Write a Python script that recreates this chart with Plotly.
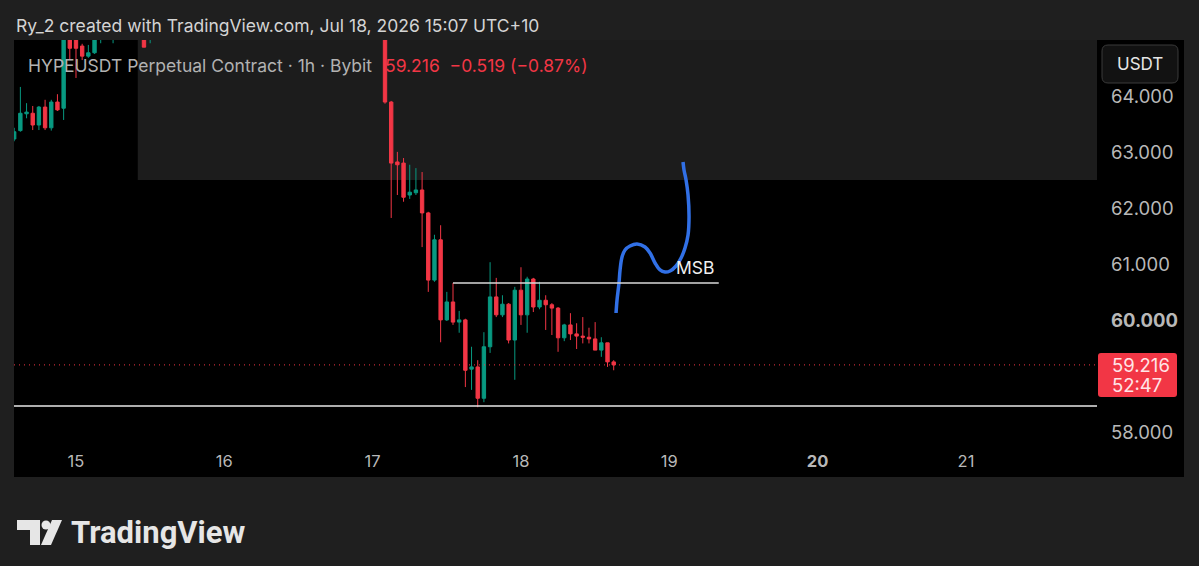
import pandas as pd
import plotly.graph_objects as go

# ---------------- data ----------------
BASE = pd.Timestamp("2026-07-15 00:00")  # hour offsets below are relative to this

hours = [-10, -9, -8, -7, -6, -5, -4, -3, -2, -1, 0, 1, 2, 3, 4, 6, 11, 12,
         50, 51, 52, 53, 54, 55, 56, 57, 58, 59, 60, 61, 62, 63, 64, 65, 66, 67, 68, 69,
         70, 71, 72, 73, 74, 75, 76, 77, 78, 79, 80, 81, 82, 83, 84, 85, 86, 87]
opens = [63.25, 63.40, 63.70, 63.71, 63.50, 63.82, 63.45, 63.91, 63.80, 65.30, 65.10, 64.91, 64.73, 64.79, 65.10, 65.15, 65.30, 65.10,
         65.60, 63.91, 62.84, 62.82, 62.25, 62.29, 62.34, 61.93, 60.73, 61.45, 60.02, 60.34, 59.98, 60.02, 59.14, 59.18, 58.62, 59.54, 60.43, 60.11,
         60.30, 59.66, 60.55, 60.11, 60.75, 60.25, 60.37, 60.29, 60.23, 59.70, 59.93, 59.77, 59.73, 59.71, 59.68, 59.48, 59.61, 59.27]
highs = [63.45, 64.18, 63.89, 63.84, 63.84, 63.95, 63.95, 64.05, 65.45, 65.45, 65.25, 64.95, 64.93, 65.20, 65.40, 65.45, 65.40, 65.40,
         65.70, 63.93, 63.02, 62.91, 62.79, 62.73, 62.66, 61.95, 61.54, 61.71, 60.52, 60.68, 60.18, 60.04, 59.54, 59.30, 59.80, 61.05, 60.77, 60.46,
         60.32, 60.61, 60.96, 60.79, 60.77, 60.70, 60.46, 60.32, 60.25, 59.95, 60.14, 59.96, 60.07, 59.88, 59.98, 59.71, 59.61, 59.30]
lows = [63.21, 63.38, 63.62, 63.41, 63.41, 63.41, 63.40, 63.75, 63.59, 64.66, 64.34, 64.66, 64.70, 64.77, 64.96, 64.96, 64.89, 64.96,
        63.88, 61.84, 62.25, 62.13, 62.18, 62.25, 61.32, 60.52, 60.70, 59.62, 60.00, 59.93, 59.79, 58.82, 58.77, 58.46, 58.55, 59.43, 60.07, 60.07,
        59.60, 58.95, 59.93, 59.79, 60.16, 60.21, 59.84, 59.75, 59.45, 59.64, 59.66, 59.50, 59.60, 59.60, 59.48, 59.36, 59.18, 59.12]
closes = [63.38, 63.71, 63.73, 63.50, 63.82, 63.45, 63.91, 63.77, 65.30, 64.87, 64.87, 64.73, 64.79, 65.10, 65.30, 65.35, 64.89, 65.30,
          63.91, 62.82, 62.79, 62.21, 62.30, 62.34, 61.93, 60.73, 61.45, 60.02, 60.34, 59.98, 60.02, 59.12, 59.18, 58.62, 59.54, 60.43, 60.11, 60.30,
          59.66, 60.55, 60.11, 60.75, 60.25, 60.37, 60.29, 60.23, 59.70, 59.93, 59.77, 59.73, 59.71, 59.68, 59.48, 59.61, 59.27, 59.216]

last_price = 59.216
price_ticks = [58, 60, 61, 62, 63, 64]
price_tick_text = ["58.000", "<b>60.000</b>", "61.000", "62.000", "63.000", "64.000"]
day_ticks = ["2026-07-15", "2026-07-16", "2026-07-17", "2026-07-18", "2026-07-19", "2026-07-20", "2026-07-21"]
day_tick_text = ["15", "16", "17", "18", "19", "<b>20</b>", "21"]

view_hours = [-10.03, 165.2]
price_range = [57.857, 65.018]

# drawings (hour offset, price)
zone_hours = [10.0, 165.2]
zone_prices = [62.52, 66.0]
support_price = 58.48
msb_hours = [61.0, 104.0]
msb_price = 60.68
msb_label = (96.8, 60.95)
path_hours = [87.38, 87.54, 87.86, 88.03, 88.35, 88.83, 89.64, 90.78, 92.07, 92.88, 93.69, 94.50,
              95.31, 96.12, 97.09, 97.90, 98.54, 99.03, 99.19, 99.03, 98.71, 98.38, 98.22]
path_prices = [60.143, 60.375, 60.679, 60.911, 61.143, 61.268, 61.339, 61.375, 61.321, 61.214, 61.036, 60.911,
               60.875, 60.893, 60.982, 61.125, 61.304, 61.536, 61.857, 62.25, 62.518, 62.696, 62.839]


def t(h):
    return BASE + pd.to_timedelta(h, unit="h")


# ---------------- layout geometry (pixels) ----------------
W, H = 1199, 566
PL, PR, PT, PB = 14, 1097, 40, 441


def px(x):
    return (x - PL) / (PR - PL)


def py(y):
    return (PB - y) / (PB - PT)


def rrect(x0, y0, x1, y1, r):
    return (f"M {px(x0 + r)} {py(y0)} L {px(x1 - r)} {py(y0)} Q {px(x1)} {py(y0)} {px(x1)} {py(y0 + r)} "
            f"L {px(x1)} {py(y1 - r)} Q {px(x1)} {py(y1)} {px(x1 - r)} {py(y1)} "
            f"L {px(x0 + r)} {py(y1)} Q {px(x0)} {py(y1)} {px(x0)} {py(y1 - r)} "
            f"L {px(x0)} {py(y0 + r)} Q {px(x0)} {py(y0)} {px(x0 + r)} {py(y0)} Z")


def poly(pts):
    return "M " + " L ".join(f"{px(a)} {py(b)}" for a, b in pts) + " Z"


UP, DOWN = "#089981", "#f23645"
FONT = "Inter"

fig = go.Figure()
fig.add_trace(go.Candlestick(
    x=[t(h) for h in hours], open=opens, high=highs, low=lows, close=closes,
    increasing=dict(line=dict(color=UP, width=1), fillcolor=UP),
    decreasing=dict(line=dict(color=DOWN, width=1), fillcolor=DOWN),
    whiskerwidth=0, showlegend=False, hoverinfo="skip",
))
fig.add_trace(go.Scatter(
    x=[t(h) for h in path_hours], y=path_prices, mode="lines",
    line=dict(color="#3170e6", width=3.5, shape="spline", smoothing=1.0),
    showlegend=False, hoverinfo="skip",
))

shapes = [
    # black chart panel incl. price axis and time axis
    dict(type="rect", xref="paper", yref="paper", x0=px(14), x1=px(1184), y0=py(477), y1=py(40),
         fillcolor="#000000", line=dict(width=0), layer="below"),
    # gray zone
    dict(type="rect", xref="x", yref="y", x0=t(zone_hours[0]), x1=t(zone_hours[1]),
         y0=zone_prices[0], y1=zone_prices[1], fillcolor="#1c1c1c", line=dict(width=0), layer="below"),
    # support line
    dict(type="line", xref="paper", yref="y", x0=0, x1=1, y0=support_price, y1=support_price,
         line=dict(color="#e8e8e8", width=1.5)),
    # MSB line
    dict(type="line", xref="x", yref="y", x0=t(msb_hours[0]), x1=t(msb_hours[1]), y0=msb_price, y1=msb_price,
         line=dict(color="#d8d8d8", width=1.5)),
    # last price dotted line
    dict(type="line", xref="paper", yref="y", x0=0, x1=1, y0=last_price, y1=last_price,
         line=dict(color=DOWN, width=1, dash="1px,4px")),
    # last price label box
    dict(type="path", xref="paper", yref="paper", path=rrect(1098, 353, 1177, 397, 3),
         fillcolor=DOWN, line=dict(width=0)),
    # USDT box
    dict(type="path", xref="paper", yref="paper", path=rrect(1102, 45, 1178, 83, 6),
         fillcolor="#121212", line=dict(color="#3a3a3a", width=1)),
    # TradingView logo
    dict(type="path", xref="paper", yref="paper",
         path=poly([(17, 520), (40, 520), (40, 545), (30, 545), (30, 530), (17, 530)]),
         fillcolor="#e6e6e6", line=dict(width=0)),
    dict(type="circle", xref="paper", yref="paper", x0=px(41.5), x1=px(50.5), y0=py(529.5), y1=py(520.5),
         fillcolor="#e6e6e6", line=dict(width=0)),
    dict(type="path", xref="paper", yref="paper",
         path=poly([(52, 520), (62, 520), (51, 545), (41, 545)]),
         fillcolor="#e6e6e6", line=dict(width=0)),
]

ann = [
    dict(x=px(14), y=py(25), text="Ry_2 created with TradingView.com, Jul 18, 2026 15:07 UTC+10",
         font=dict(size=17.5, color="#d4d4d4")),
    dict(x=px(26), y=py(66), text="HYPEUSDT Perpetual Contract · 1h · Bybit",
         font=dict(size=17.5, color="#b2b2b2")),
    dict(x=px(383), y=py(66), text="59.216  −0.519 (−0.87%)",
         font=dict(size=17.5, color=DOWN)),
    dict(x=t(msb_label[0]), y=msb_label[1], xref="x", yref="y", text="MSB",
         font=dict(size=17.5, color="#f0f0f0")),
    dict(x=px(1110), y=py(365), text="59.216", font=dict(size=18.5, color="#ffe4e7")),
    dict(x=px(1110), y=py(385), text="52:47", font=dict(size=18.5, color="#ffe4e7")),
    dict(x=px(1140), y=py(64), text="USDT", xanchor="center", font=dict(size=17, color="#e6e6e6")),
    dict(x=px(69), y=py(532), text="<b>TradingView</b>",
         font=dict(size=31, color="#e6e6e6", family="Roboto")),
]
for a in ann:
    a.setdefault("xref", "paper")
    a.setdefault("yref", "paper")
    a.setdefault("xanchor", "left")
    a.setdefault("yanchor", "middle")
    a["showarrow"] = False

fig.update_layout(
    width=W, height=H,
    margin=dict(l=PL, r=W - PR, t=PT, b=H - PB, pad=0),
    paper_bgcolor="#1f1f1f", plot_bgcolor="#000000",
    font=dict(family=FONT, color="#b8b8b8"),
    boxgap=0.22,
    shapes=shapes, annotations=ann,
    xaxis=dict(type="date", range=[t(view_hours[0]), t(view_hours[1])], rangeslider=dict(visible=False),
               showgrid=False, zeroline=False, showline=False, ticks="",
               tickmode="array", tickvals=day_ticks, ticktext=day_tick_text,
               tickfont=dict(size=16.5, color="#b8b8b8"), ticklabelstandoff=8),
    yaxis=dict(range=price_range, side="right", showgrid=False, zeroline=False, showline=False, ticks="",
               tickmode="array", tickvals=price_ticks, ticktext=price_tick_text,
               tickfont=dict(size=18.5, color="#b8b8b8"), ticklabelstandoff=13),
)

fig.write_html("out.html")
